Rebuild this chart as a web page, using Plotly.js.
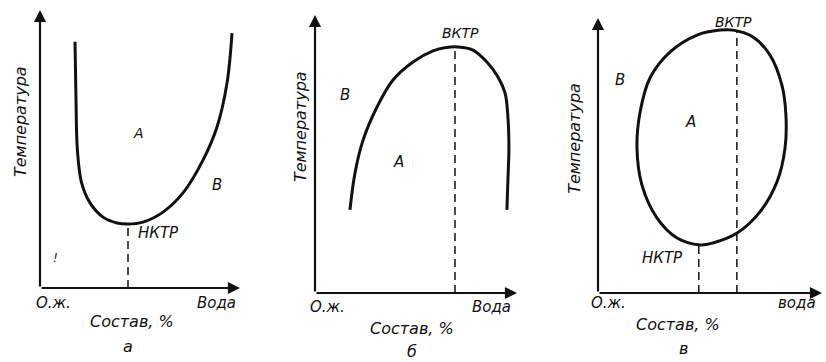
<!DOCTYPE html>
<html><head><meta charset="utf-8">
<script src="https://cdn.plot.ly/plotly-3.0.1.min.js"></script>
<style>html,body{margin:0;padding:0;background:#fff}</style>
</head><body><div id="chart" style="width:826px;height:362px"></div>
<script>
// Panel а: lower critical temperature (U-shaped curve)
var aX = [17.5, 18, 18.7, 20.8, 25, 31.5, 38.5, 44, 51.5, 61.5, 71.5, 81.5, 88.5, 93.5, 96];
var aY = [88.6, 67.6, 49.6, 37.8, 30.6, 25.5, 23.4, 23.0, 23.7, 27.3, 34.2, 46, 57.9, 73.7, 91.7];
var aCrit = [44, 23.0];
// Panel б: upper critical temperature (dome)
var bX = [17.3, 19.8, 23.8, 30.7, 38.6, 48.5, 58.4, 65, 70.8, 78.2, 85.1, 90.6, 94.1, 95.5, 96.0, 95.5, 95.0];
var bY = [29.9, 43.2, 55.0, 66.9, 76.6, 83.1, 87.1, 88.3, 88.5, 87.4, 83.1, 77.7, 71.9, 63.3, 52.5, 40.6, 29.9];
var bCrit = [69.3, 88.5];
// Panel в: closed loop (both critical temperatures)
var cX = [60.3, 69.2, 76.8, 82.1, 83.9, 83.5, 79.9, 72.3, 62.1, 51.3, 45.5, 35.3, 26.3, 19.6, 17.4, 18.8, 23.2, 32.1, 44.2, 54.5, 60.3];
var cY = [95.6, 93.1, 86.5, 75.6, 64.7, 52.7, 40.4, 29.5, 21.8, 18.2, 17.5, 20.0, 27.3, 39.3, 52.7, 65.8, 78.2, 87.6, 93.8, 95.6, 95.6];
var cUpper = [62, 95.6];
var cLower = [45, 17.5];

var panelLetters = ['а', 'б', 'в'];
var xTitles = ['Состав, %', 'Состав, %', 'Состав, %'];
var yTitle = 'Температура';
var leftEnds = ['О.ж.', 'О.ж.', 'О.ж.'];
var rightEnds = ['Вода', 'Вода', 'вода'];

var F = 'DejaVu Sans';
var ink = '#111';
function curve(x, y, ax) {
  return {x: x, y: y, xaxis: 'x' + ax, yaxis: 'y' + ax, mode: 'lines',
    line: {color: ink, width: 3, shape: 'spline', smoothing: 1}, hoverinfo: 'skip'};
}
function drop(p, ax) {
  return {x: [p[0], p[0]], y: [0, p[1]], xaxis: 'x' + ax, yaxis: 'y' + ax, mode: 'lines',
    line: {color: ink, width: 1.5, dash: '8px,5px'}, hoverinfo: 'skip'};
}
var data = [
  curve(aX, aY, ''), drop(aCrit, ''),
  curve(bX, bY, '2'), drop(bCrit, '2'),
  curve(cX, cY, '3'), drop(cUpper, '3'), drop(cLower, '3')
];

var ann = [];
function txt(ax, x, y, t, size, angle) {
  ann.push({xref: 'x' + ax, yref: 'y' + ax, x: x, y: y, text: t, showarrow: false,
    textangle: angle || 0,
    font: {family: F, size: size, color: ink, style: 'italic'}});
}
function arrow(ax, x, y) {
  ann.push({xref: 'x' + ax, yref: 'y' + ax, axref: 'x' + ax, ayref: 'y' + ax,
    x: x, y: y, ax: 0, ay: 0, text: '', showarrow: true,
    arrowhead: 2, arrowsize: 1.1, arrowwidth: 2.2, arrowcolor: ink, standoff: 0});
}
var refs = ['', '2', '3'];
for (var i = 0; i < 3; i++) {
  arrow(refs[i], 0, 100);
  arrow(refs[i], 100, 0);
}
// panel а labels
txt('', 49, 55.8, 'А', 14);
txt('', 88.5, 37, 'В', 15);
txt('', 59, 19.8, 'НКТР', 15);
txt('', 7.5, 10.8, '!', 12);
txt('', 6.5, -5.4, leftEnds[0], 15);
txt('', 88, -5.4, rightEnds[0], 15);
txt('', 46, -12.2, xTitles[0], 16);
txt('', 44, -21.2, panelLetters[0], 16);
txt('', -10, 59.7, yTitle, 16, -90);
// panel б labels
txt('2', 71.8, 93.5, 'ВКТР', 14);
txt('2', 14.9, 71.2, 'В', 15);
txt('2', 41.1, 47.1, 'А', 15);
txt('2', 6, -5, leftEnds[1], 15);
txt('2', 87.6, -5, rightEnds[1], 15);
txt('2', 48, -12.6, xTitles[1], 16);
txt('2', 48, -21.2, panelLetters[1], 16);
txt('2', -7.4, 59.7, yTitle, 16, -90);
// panel в labels
txt('3', 60.3, 98.5, 'ВКТР', 14);
txt('3', 28.6, 12.7, 'НКТР', 15);
txt('3', 9.8, 77.5, 'В', 15);
txt('3', 41.1, 62.2, 'А', 15);
txt('3', 4.5, -3.6, leftEnds[2], 15);
txt('3', 88.8, -3.6, rightEnds[2], 15);
txt('3', 35.7, -11.6, xTitles[2], 16);
txt('3', 38, -20, panelLetters[2], 16);
txt('3', -10.3, 56.4, yTitle, 16, -90);

function hid(dom, rng) {
  return {domain: dom, range: rng, visible: false, fixedrange: true, showgrid: false, zeroline: false};
}
var layout = {
  width: 826, height: 362, margin: {l: 0, r: 0, t: 0, b: 0},
  paper_bgcolor: '#fff', plot_bgcolor: 'rgba(0,0,0,0)', showlegend: false,
  xaxis: hid([0, 0.33898], [-20, 120]), yaxis: hid([0, 1], [-26.62, 103.60]),
  xaxis2: hid([0.33898, 0.66586], [-17.33, 116.34]), yaxis2: hid([0, 1], [-24.82, 105.40]),
  xaxis3: hid([0.66586, 1], [-21.43, 101.79]), yaxis3: hid([0, 1], [-25.09, 106.55]),
  annotations: ann
};
layout.yaxis2.anchor = 'x2'; layout.xaxis2.anchor = 'y2';
layout.yaxis3.anchor = 'x3'; layout.xaxis3.anchor = 'y3';
Plotly.newPlot('chart', data, layout, {staticPlot: true});
</script></body></html>
